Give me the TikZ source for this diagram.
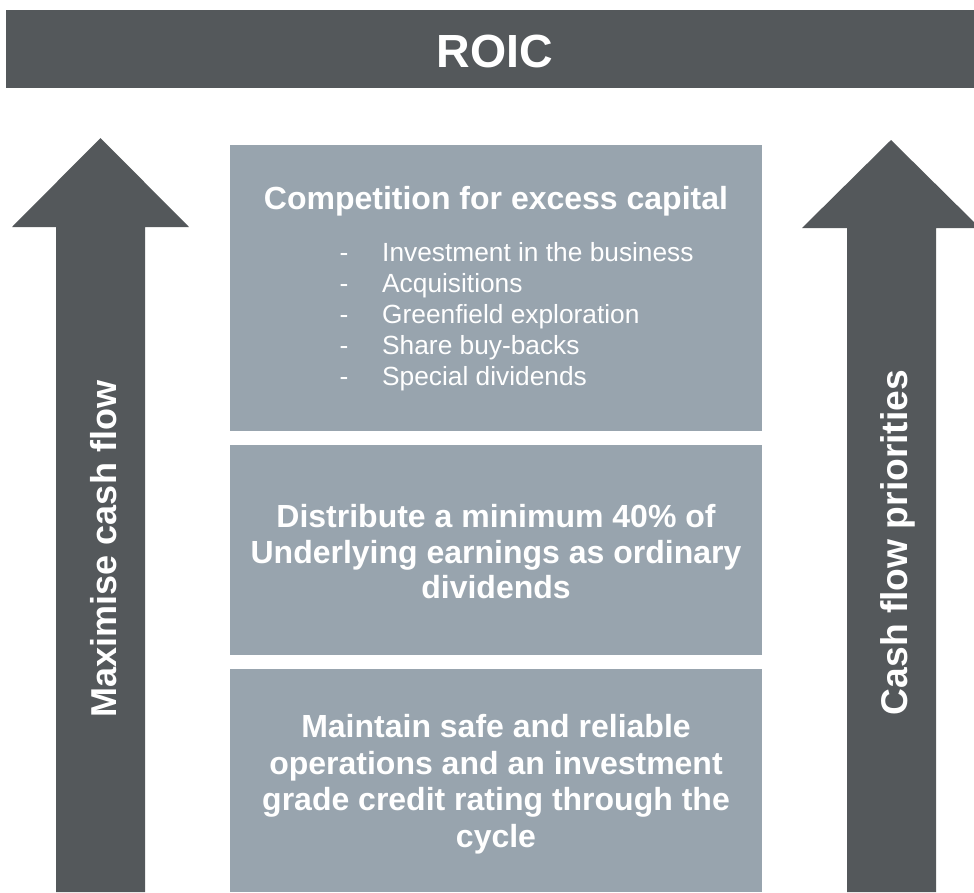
\documentclass[tikz,border=0pt]{standalone}
\usepackage{fontspec}
\setmainfont{Liberation Sans}
\definecolor{darkgrey}{HTML}{54585B}
\definecolor{boxgrey}{HTML}{98A4AE}
\tikzset{
  darkshape/.style={fill=darkgrey, draw=none},
  boxshape/.style={fill=boxgrey, draw=none},
  whitetext/.style={text=white, inner sep=0pt},
  boldtext/.style={whitetext, font=\bfseries\fontsize{32}{36}\selectfont, align=center},
  sidetext/.style={whitetext, font=\bfseries\fontsize{36}{40}\selectfont, rotate=90, anchor=base},
  bullettext/.style={whitetext, font=\fontsize{26.3}{31}\selectfont, anchor=base west},
  dashtext/.style={whitetext, font=\fontsize{26.3}{31}\selectfont, anchor=base}
}
\begin{document}
\begin{tikzpicture}[x=1pt, y=-1pt]
\useasboundingbox (0,0) rectangle (974,892);
\begin{scope}
\clip (0,0) rectangle (974,892);
% top bar
\fill[darkshape] (6,10) rectangle (974,88);
\node[whitetext, font=\bfseries\fontsize{46.5}{50}\selectfont, anchor=base] (roic) at (495,67) {ROIC};
% left arrow
\fill[darkshape] (56,892) -- (56,227) -- (12,227) -- (100.5,138) -- (189,227) -- (145,227) -- (145,892) -- cycle;
\node[sidetext] (leftlabel) at (116,549) {Maximise cash flow};
% right arrow
\fill[darkshape] (847,892) -- (847,228) -- (802,228) -- (891,140) -- (980,228) -- (936,228) -- (936,892) -- cycle;
\node[sidetext, font=\bfseries\fontsize{37.2}{40}\selectfont] (rightlabel) at (907.5,542.5) {Cash flow priorities};
% boxes
\fill[boxshape] (230,145) rectangle (762,431);
\fill[boxshape] (230,445) rectangle (762,655);
\fill[boxshape] (230,669) rectangle (762,892);
\end{scope}
% box 1 text
\node[whitetext, font=\bfseries\fontsize{32}{36}\selectfont, anchor=base] (title1) at (496,209) {Competition for excess capital};
\foreach \i/\t in {0/Investment in the business,1/Acquisitions,2/Greenfield exploration,3/Share buy-backs,4/Special dividends}{
  \node[dashtext] (dash\i) at (344,261+31*\i) {-};
  \node[bullettext] (item\i) at (382,261+31*\i) {\t};
}
% box 2 text
\node[boldtext, font=\bfseries\fontsize{32}{35.5}\selectfont] (text2) at (496,552) {Distribute a minimum 40\% of\\Underlying earnings as ordinary\\dividends};
% box 3 text
\node[boldtext, font=\bfseries\fontsize{32}{36.5}\selectfont] (text3) at (496,784) {Maintain safe and reliable\\operations and an investment\\grade credit rating through the\\cycle};
\end{tikzpicture}
\end{document}
